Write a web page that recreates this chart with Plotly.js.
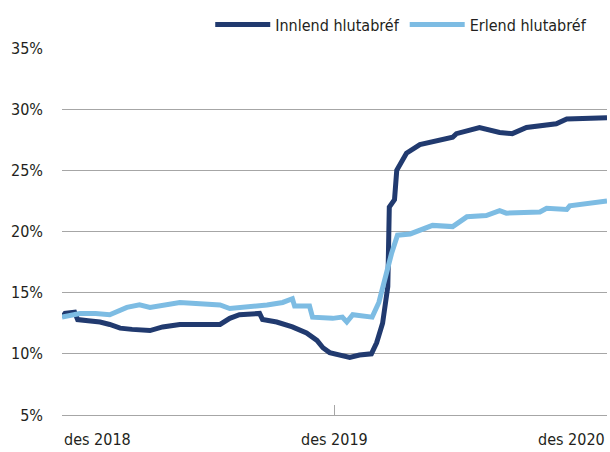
<!DOCTYPE html>
<html>
<head>
<meta charset="utf-8">
<script src="https://cdn.plot.ly/plotly-3.0.1.min.js"></script>
<style>html,body{margin:0;padding:0;background:#fff;}#chart{width:610px;height:452px;}</style>
</head>
<body>
<div id="chart"></div>
<script>
// Innlend hlutabréf (dark)
const innlendDates = ["2018-12-01","2018-12-05","2018-12-18","2018-12-22","2019-01-05","2019-01-21","2019-02-03","2019-02-17","2019-03-05","2019-03-29","2019-04-15","2019-05-08","2019-06-05","2019-07-01","2019-07-14","2019-07-27","2019-08-23","2019-08-27","2019-09-15","2019-10-06","2019-10-25","2019-11-08","2019-11-16","2019-11-25","2019-12-22","2020-01-04","2020-01-20","2020-01-27","2020-02-04","2020-02-11","2020-02-13","2020-02-20","2020-02-23","2020-03-07","2020-03-25","2020-04-20","2020-05-08","2020-05-13","2020-06-13","2020-07-10","2020-07-27","2020-08-15","2020-09-24","2020-10-08","2020-12-01"];
const innlendValues = [13.0,13.3,13.4,12.8,12.7,12.6,12.4,12.1,12.0,11.9,12.2,12.4,12.4,12.4,12.9,13.2,13.3,12.8,12.6,12.2,11.7,11.1,10.5,10.1,9.7,9.9,10.0,10.9,12.5,15.5,22.0,22.6,25.0,26.4,27.1,27.5,27.7,28.0,28.5,28.1,28.0,28.5,28.8,29.2,29.3];
// Erlend hlutabréf (light)
const erlendDates = ["2018-12-01","2018-12-25","2019-01-15","2019-02-03","2019-02-26","2019-03-15","2019-03-29","2019-04-21","2019-05-08","2019-06-04","2019-07-01","2019-07-14","2019-08-06","2019-09-02","2019-09-23","2019-10-06","2019-10-09","2019-10-29","2019-11-02","2019-11-29","2019-12-12","2019-12-18","2019-12-26","2020-01-13","2020-01-21","2020-01-30","2020-02-06","2020-02-16","2020-02-24","2020-03-12","2020-04-11","2020-05-08","2020-05-27","2020-06-22","2020-07-10","2020-07-19","2020-09-02","2020-09-11","2020-10-08","2020-10-12","2020-12-01"];
const erlendValues = [13.0,13.3,13.3,13.2,13.8,14.0,13.8,14.0,14.2,14.1,14.0,13.7,13.8,14.0,14.2,14.5,13.9,13.9,13.0,12.9,13.0,12.6,13.2,13.1,13.0,14.2,15.9,18.2,19.7,19.8,20.5,20.4,21.2,21.3,21.7,21.5,21.6,21.9,21.8,22.1,22.5];
const seriesNames = ["Innlend hlutabréf","Erlend hlutabréf"];
const xTickVals = ["2018-12-01","2019-12-01","2020-12-01"];
const xTickText = ["des 2018","des 2019","des 2020"];
const yTickVals = [5,10,15,20,25,30,35];
const yTickText = ["5%","10%","15%","20%","25%","30%","35%"];

const FONT = '"DejaVu Sans Condensed","Liberation Sans Narrow",sans-serif';
const traces = [
  {x: innlendDates, y: innlendValues, name: seriesNames[0], type:'scatter', mode:'lines',
   line:{color:'#213a6f', width:5}},
  {x: erlendDates, y: erlendValues, name: seriesNames[1], type:'scatter', mode:'lines',
   line:{color:'#7dbce3', width:5}}
];
const anchors = ['left','center','right'];
const annotations = xTickVals.map((d,i)=>({x:d, y:0, xref:'x', yref:'paper', yanchor:'top', yshift:-13,
  xanchor:anchors[i], text:xTickText[i], showarrow:false, font:{family:FONT, size:16, color:'#231f20'}}));
const layout = {
  width:610, height:452,
  margin:{l:62, r:3, t:48, b:37},
  paper_bgcolor:'#fff', plot_bgcolor:'#fff',
  font:{family:FONT, size:16, color:'#231f20'},
  showlegend:true,
  legend:{orientation:'h', x:0.272, xanchor:'left', y:1.11, yanchor:'top',
          font:{family:FONT, size:16, color:'#231f20'}, itemwidth:55, bgcolor:'rgba(0,0,0,0)'},
  xaxis:{type:'date', range:['2018-12-01','2020-12-01'], showgrid:false, zeroline:false,
         showline:true, linecolor:'#a6a6a6', linewidth:1,
         tickvals:xTickVals, ticktext:xTickText, showticklabels:false,
         ticks:'inside', ticklen:10, tickcolor:'#a6a6a6', tickwidth:1},
  yaxis:{range:[5,35], tickvals:yTickVals, ticktext:yTickText, showgrid:true, gridcolor:'#a6a6a6', gridwidth:1,
         zeroline:false, showline:false, ticks:'', ticklabelstandoff:18,
         tickfont:{family:FONT, size:16, color:'#231f20'}},
  annotations: annotations
};
Plotly.newPlot('chart', traces, layout, {displayModeBar:false, staticPlot:true});
</script>
</body>
</html>
